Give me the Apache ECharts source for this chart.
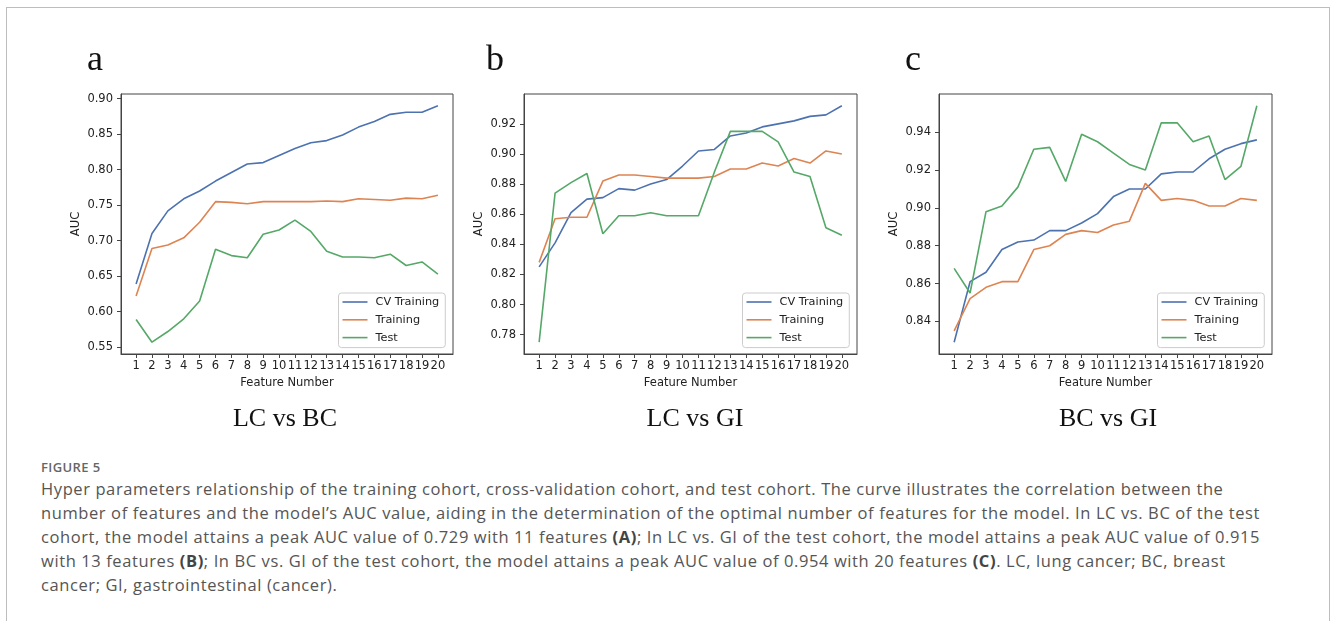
<!DOCTYPE html>
<html>
<head>
<meta charset="utf-8">
<script src="https://cdn.jsdelivr.net/npm/echarts@6/dist/echarts.min.js"></script>
<style>
  html, body { margin: 0; padding: 0; background: #fff; }
  #wrap { position: relative; width: 1330px; height: 621px; overflow: hidden; }
  #frame { position: absolute; left: 6px; top: 7px; width: 1322px; height: 700px;
           border: 1px solid #bdbdbd; border-bottom: none; }
  #chart { position: absolute; left: 0; top: 0; width: 1330px; height: 440px; }
  #caption { position: absolute; left: 41px; top: 457px; width: 1285px;
             font-family: "Open Sans", "Noto Sans", sans-serif; color: #555; }
  #caption .fig { font-size: 13px; font-weight: 600; color: #666; line-height: 20px; letter-spacing: 0.4px; }
  #caption .txt { font-size: 16.5px; line-height: 24px; letter-spacing: 0.6px; white-space: nowrap; }
  #caption b { font-weight: 700; color: #444; }
</style>
</head>
<body>
<div id="wrap">
  <div id="frame"></div>
  <div id="chart"></div>
  <div id="caption">
    <div class="fig">FIGURE 5</div>
    <div class="txt">Hyper parameters relationship of the training cohort, cross-validation cohort, and test cohort. The curve illustrates the correlation between the<br>number of features and the model’s AUC value, aiding in the determination of the optimal number of features for the model. In LC vs. BC of the test<br>cohort, the model attains a peak AUC value of 0.729 with 11 features <b>(A)</b>; In LC vs. GI of the test cohort, the model attains a peak AUC value of 0.915<br>with 13 features <b>(B)</b>; In BC vs. GI of the test cohort, the model attains a peak AUC value of 0.954 with 20 features <b>(C)</b>. LC, lung cancer; BC, breast<br>cancer; GI, gastrointestinal (cancer).</div>
  </div>
</div>
<script>
// feature counts on the x axis
var features = [1, 2, 3, 4, 5, 6, 7, 8, 9, 10, 11, 12, 13, 14, 15, 16, 17, 18, 19, 20];

// panel a: LC vs BC
var cvA    = [0.639, 0.710, 0.742, 0.759, 0.770, 0.784, 0.796, 0.808, 0.810, 0.820, 0.830, 0.838, 0.841, 0.849, 0.860, 0.868, 0.878, 0.881, 0.881, 0.890];
var trainA = [0.622, 0.689, 0.694, 0.704, 0.726, 0.755, 0.754, 0.752, 0.755, 0.755, 0.755, 0.755, 0.756, 0.755, 0.759, 0.758, 0.757, 0.760, 0.759, 0.764];
var testA  = [0.589, 0.557, 0.572, 0.590, 0.615, 0.688, 0.679, 0.676, 0.709, 0.715, 0.729, 0.713, 0.685, 0.677, 0.677, 0.676, 0.681, 0.665, 0.670, 0.653];

// panel b: LC vs GI
var cvB    = [0.825, 0.841, 0.861, 0.870, 0.871, 0.877, 0.876, 0.880, 0.883, 0.892, 0.902, 0.903, 0.912, 0.914, 0.918, 0.920, 0.922, 0.925, 0.926, 0.932];
var trainB = [0.828, 0.857, 0.858, 0.858, 0.882, 0.886, 0.886, 0.885, 0.884, 0.884, 0.884, 0.885, 0.890, 0.890, 0.894, 0.892, 0.897, 0.894, 0.902, 0.900];
var testB  = [0.775, 0.874, 0.881, 0.887, 0.847, 0.859, 0.859, 0.861, 0.859, 0.859, 0.859, 0.888, 0.915, 0.915, 0.915, 0.908, 0.888, 0.885, 0.851, 0.846];

// panel c: BC vs GI
var cvC    = [0.829, 0.861, 0.866, 0.878, 0.882, 0.883, 0.888, 0.888, 0.892, 0.897, 0.906, 0.910, 0.910, 0.918, 0.919, 0.919, 0.926, 0.931, 0.934, 0.936];
var trainC = [0.835, 0.852, 0.858, 0.861, 0.861, 0.878, 0.880, 0.886, 0.888, 0.887, 0.891, 0.893, 0.913, 0.904, 0.905, 0.904, 0.901, 0.901, 0.905, 0.904];
var testC  = [0.868, 0.855, 0.898, 0.901, 0.911, 0.931, 0.932, 0.914, 0.939, 0.935, 0.929, 0.923, 0.920, 0.945, 0.945, 0.935, 0.938, 0.915, 0.922, 0.954];

// y tick labels
var ticksA = [0.55, 0.60, 0.65, 0.70, 0.75, 0.80, 0.85, 0.90];
var ticksB = [0.78, 0.80, 0.82, 0.84, 0.86, 0.88, 0.90, 0.92];
var ticksC = [0.84, 0.86, 0.88, 0.90, 0.92, 0.94];

var seriesNames = ["CV Training", "Training", "Test"];
var colors = ["#4c72b0", "#dd8452", "#55a868"];
var panelLetters = ["a", "b", "c"];
var panelTitles = ["LC vs BC", "LC vs GI", "BC vs GI"];

var panels = [
  { lines: [cvA, trainA, testA], ticks: ticksA },
  { lines: [cvB, trainB, testB], ticks: ticksB },
  { lines: [cvC, trainC, testC], ticks: ticksC }
];

// plot boxes (px)
var boxes = [
  { left: 121, top: 94, width: 332, height: 260 },
  { left: 524, top: 94, width: 333, height: 260 },
  { left: 939, top: 94, width: 333, height: 260 }
];

// matplotlib style 5% margins
function span(arrs) {
  var all = [].concat.apply([], arrs);
  var lo = Math.min.apply(null, all), hi = Math.max.apply(null, all);
  var m = (hi - lo) * 0.05;
  return [lo - m, hi + m];
}

var myChart = echarts.init(document.getElementById('chart'));

var tickFont = { color: '#222', fontSize: 11.5, fontFamily: 'DejaVu Sans' };
var grid = [], xAxis = [], yAxis = [], series = [], legend = [], graphic = [];

panels.forEach(function (p, k) {
  var b = boxes[k];
  var xr = span([features]);
  var yr = span(p.lines);
  grid.push({ left: b.left, top: b.top, width: b.width, height: b.height,
              show: true, borderColor: '#444', borderWidth: 1, backgroundColor: 'transparent' });
  xAxis.push({
    type: 'value', gridIndex: k, min: xr[0], max: xr[1],
    name: 'Feature Number', nameLocation: 'middle', nameGap: 22,
    nameTextStyle: tickFont,
    axisLine: { show: true, lineStyle: { color: '#444', width: 1 } },
    axisTick: { show: true, length: 4, customValues: features, lineStyle: { color: '#444' } },
    axisLabel: { customValues: features, margin: 6, color: tickFont.color, fontSize: tickFont.fontSize, fontFamily: tickFont.fontFamily },
    splitLine: { show: false }
  });
  yAxis.push({
    type: 'value', gridIndex: k, min: yr[0], max: yr[1],
    name: 'AUC', nameLocation: 'middle', nameGap: 39, nameRotate: 90,
    nameTextStyle: tickFont,
    axisLine: { show: true, lineStyle: { color: '#444', width: 1 } },
    axisTick: { show: true, length: 4, customValues: p.ticks, lineStyle: { color: '#444' } },
    axisLabel: { customValues: p.ticks, margin: 8, color: tickFont.color, fontSize: tickFont.fontSize, fontFamily: tickFont.fontFamily,
                 formatter: function (v) { return v.toFixed(2); } },
    splitLine: { show: false }
  });
  p.lines.forEach(function (vals, j) {
    series.push({
      name: seriesNames[j], type: 'line', xAxisIndex: k, yAxisIndex: k,
      data: features.map(function (f, i) { return [f, vals[i]]; }),
      symbol: 'none', smooth: false,
      lineStyle: { color: colors[j], width: 1.6 },
      itemStyle: { color: colors[j] }
    });
  });
  legend.push({
    orient: 'vertical', left: b.left + b.width - 114.5, top: 293,
    data: seriesNames, icon: 'rect', itemWidth: 25, itemHeight: 1.6, itemGap: 5.8,
    padding: [3, 6, 4, 4], borderColor: '#cccccc', borderWidth: 1, borderRadius: 3,
    backgroundColor: 'rgba(255,255,255,0.85)', selectedMode: false,
    textStyle: { color: '#222', fontSize: 11.3, fontFamily: 'DejaVu Sans', lineHeight: 12, padding: [0, 0, 0, 3] }
  });
  graphic.push({
    type: 'text', x: [95, 495, 913][k], y: 61,
    style: { text: panelLetters[k], font: '36px "Liberation Serif"', fill: '#111', textAlign: 'center', textVerticalAlign: 'middle' }
  });
  graphic.push({
    type: 'text', x: [285, 695, 1108][k], y: 419,
    style: { text: panelTitles[k], font: '26px "Liberation Serif"', fill: '#111', textAlign: 'center', textVerticalAlign: 'middle' }
  });
});

var option = {
  animation: false,
  backgroundColor: 'transparent',
  grid: grid,
  xAxis: xAxis,
  yAxis: yAxis,
  legend: legend,
  series: series,
  graphic: graphic
};
myChart.setOption(option);
</script>
</body>
</html>
